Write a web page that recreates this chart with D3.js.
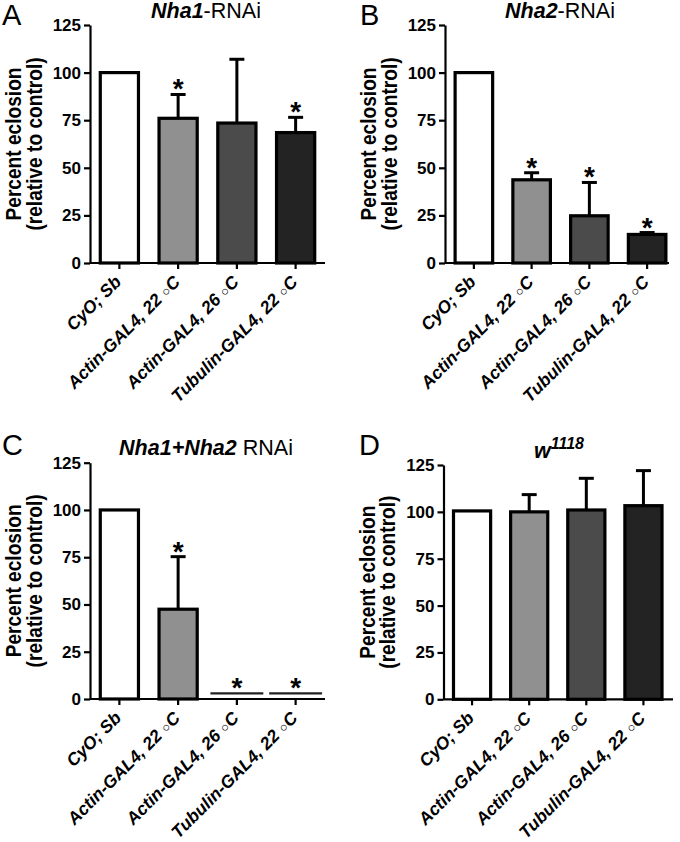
<!DOCTYPE html>
<html>
<head>
<meta charset="utf-8">
<script src="https://cdn.jsdelivr.net/npm/d3@7"></script>
<style>
  html, body { margin: 0; padding: 0; background: #fff; }
  svg { display: block; }
  text { font-family: "Liberation Sans", Arial, sans-serif; fill: #000; }
</style>
</head>
<body>
<svg id="chart" width="680" height="842"></svg>
<script>
// ---------------- data ----------------
const categoryNames = ["CyO; Sb", "Actin-GAL4, 22", "Actin-GAL4, 26", "Tubulin-GAL4, 22"];
const categoryUnits = ["", "C", "C", "C"];
const yTickValues = [0, 25, 50, 75, 100, 125];
const yTitleLines = ["Percent eclosion", "(relative to control)"];

const meansA = [100, 76, 73.5, 68.5];
const errorsA = [0, 12.5, 33.5, 8];
const signifA = [false, true, false, true];

const meansB = [100, 43.7, 24.8, 15];
const errorsB = [0, 3.7, 17.5, 1];
const signifB = [false, true, true, true];

const meansC = [100, 47.5, 3, 3];
const errorsC = [0, 27.8, 0, 0];
const signifC = [false, true, true, true];

const meansD = [100.5, 100, 101, 103.3];
const errorsD = [0, 9.2, 16.9, 18.7];
const signifD = [false, false, false, false];

// ---------------- styling ----------------
const barFills = ["#ffffff", "#909090", "#4b4b4b", "#232323"];

const panels = [
  { letter: "A", means: meansA, errors: errorsA, signif: signifA,
    title: [{ t: "Nha1", i: true, b: true }, { t: "-RNAi" }],
    x0: 90, x1: 325, axisEnd: 325, yTop: 25, yBottom: 263,
    letterX: 2, letterY: 25, titleX: 206, titleY: 18 },
  { letter: "B", means: meansB, errors: errorsB, signif: signifB,
    title: [{ t: "Nha2", i: true, b: true }, { t: "-RNAi" }],
    x0: 445, x1: 676, axisEnd: 669, yTop: 25, yBottom: 263,
    letterX: 360, letterY: 25, titleX: 560, titleY: 18 },
  { letter: "C", means: meansC, errors: errorsC, signif: signifC,
    title: [{ t: "Nha1+Nha2", i: true, b: true }, { t: " RNAi" }],
    x0: 90, x1: 325, axisEnd: 325, yTop: 462.7, yBottom: 699,
    letterX: 2, letterY: 455, titleX: 206, titleY: 455 },
  { letter: "D", means: meansD, errors: errorsD, signif: signifD,
    title: [{ t: "w", i: true, b: true }, { t: "1118", i: true, b: true, sup: true }],
    x0: 443.5, x1: 672, axisEnd: 673, yTop: 465, yBottom: 699.3,
    letterX: 359, letterY: 455, titleX: 559, titleY: 458 }
];

const svg = d3.select("#chart");

panels.forEach(p => {
  const g = svg.append("g");
  const x = d3.scaleBand().domain(categoryNames).range([p.x0, p.x1])
    .paddingInner(0.35).paddingOuter(0.175);
  const y = d3.scaleLinear().domain([0, 125]).range([p.yBottom, p.yTop]);

  // panel letter
  g.append("text").attr("x", p.letterX).attr("y", p.letterY)
    .attr("font-size", 29).text(p.letter);

  // title
  const tt = g.append("text").attr("x", p.titleX).attr("y", p.titleY)
    .attr("text-anchor", "middle").attr("font-size", 21.5);
  p.title.forEach(s => {
    const ts = tt.append("tspan").text(s.t)
      .attr("font-style", s.i ? "italic" : "normal")
      .attr("font-weight", s.b ? "bold" : "normal");
    if (s.sup) ts.attr("font-size", 16).attr("dy", -9);
  });

  // y axis title
  const cy = (p.yTop + p.yBottom) / 2;
  yTitleLines.forEach((line, i) => {
    g.append("text")
      .attr("transform", `translate(${p.x0 - 69 + i * 20.5},${cy}) rotate(-90) scale(0.85,1)`)
      .attr("text-anchor", "middle").attr("font-weight", "bold").attr("font-size", 22.5)
      .text(line);
  });

  // error bars
  const barW = x.bandwidth();
  const capW = 15;
  p.means.forEach((m, i) => {
    const e = p.errors[i];
    if (e > 0) {
      const cx = x(categoryNames[i]) + barW / 2;
      g.append("line").attr("x1", cx).attr("x2", cx)
        .attr("y1", y(m)).attr("y2", y(m + e))
        .attr("stroke", "#000").attr("stroke-width", 3);
      g.append("line").attr("x1", cx - capW / 2).attr("x2", cx + capW / 2)
        .attr("y1", y(m + e)).attr("y2", y(m + e))
        .attr("stroke", "#000").attr("stroke-width", 3);
    }
  });

  // bars (very small values drawn as a thin line mark)
  p.means.forEach((m, i) => {
    const bx = x(categoryNames[i]);
    if (m < 5) {
      const cx = bx + barW / 2;
      const half = x.step() * 0.45;
      g.append("line").attr("x1", cx - half).attr("x2", cx + half)
        .attr("y1", y(m)).attr("y2", y(m))
        .attr("stroke", "#222").attr("stroke-width", 2.2);
    } else {
      g.append("rect").attr("x", bx).attr("width", barW)
        .attr("y", y(m)).attr("height", y(0) - y(m))
        .attr("fill", barFills[i]).attr("stroke", "#000").attr("stroke-width", 3.2);
    }
  });

  // significance asterisks
  p.means.forEach((m, i) => {
    if (!p.signif[i]) return;
    const cx = x(categoryNames[i]) + barW / 2;
    const topVal = m + p.errors[i];
    g.append("text").attr("x", cx).attr("y", y(topVal) + 4)
      .attr("text-anchor", "middle").attr("font-weight", "bold").attr("font-size", 28)
      .text("*");
  });

  // y axis
  const yAxis = d3.axisLeft(y).tickValues(yTickValues).tickSize(6).tickPadding(3).tickSizeOuter(0);
  const ya = g.append("g").attr("transform", `translate(${p.x0},0)`).call(yAxis);
  ya.select(".domain").attr("stroke-width", 2.2);
  ya.selectAll(".tick line").attr("stroke-width", 2.2);
  ya.selectAll(".tick text").attr("font-size", 17).attr("font-weight", "bold")
    .attr("font-family", "Liberation Sans, Arial, sans-serif").attr("fill", "#000");

  // x axis
  const xAxis = d3.axisBottom(x).tickSize(6).tickSizeOuter(0).tickFormat("");
  const xa = g.append("g").attr("transform", `translate(0,${y(0)})`).call(xAxis);
  xa.select(".domain").remove();
  xa.selectAll(".tick line").attr("stroke-width", 2.2);
  g.append("line").attr("x1", p.x0).attr("x2", p.axisEnd)
    .attr("y1", y(0)).attr("y2", y(0)).attr("stroke", "#000").attr("stroke-width", 2.2);

  // x tick labels
  categoryNames.forEach((c, i) => {
    const cx = x(c) + barW / 2;
    const t = g.append("text")
      .attr("transform", `translate(${cx + 3},${y(0) + 20}) rotate(-45)`)
      .attr("text-anchor", "end").attr("font-size", 17.5)
      .attr("font-weight", "bold").attr("font-style", "italic");
    t.append("tspan").text(c);
    if (categoryUnits[i]) {
      t.append("tspan").text(" ");
      t.append("tspan").text("\u25CB").attr("font-size", 13).attr("font-weight", "normal")
        .attr("font-style", "normal").attr("dy", -0.5);
      t.append("tspan").text(categoryUnits[i]).attr("dy", 0.5);
    }
  });
});
</script>
</body>
</html>
